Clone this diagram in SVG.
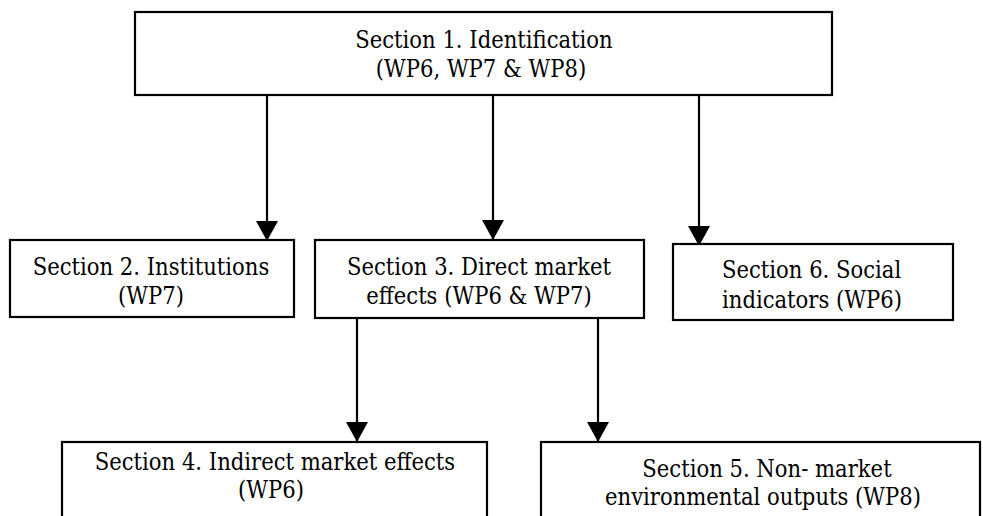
<svg xmlns="http://www.w3.org/2000/svg" width="983" height="516" viewBox="0 0 983 516">
<defs>
<style>
.box{fill:#fff;stroke:#000;stroke-width:2.2}
.t{font-family:'DejaVu Serif Condensed','DejaVu Serif',serif;font-stretch:condensed;font-size:23.5px;fill:#000}
.c{text-anchor:middle}
.ln{stroke:#000;stroke-width:2.2;fill:none}
</style>
<marker id="ah" markerUnits="userSpaceOnUse" markerWidth="20" markerHeight="22" viewBox="0 0 20 22" refX="20" refY="11" orient="auto">
<path d="M0,0 L20,11 L0,22 Z" fill="#000"/>
</marker>
</defs>
<rect width="983" height="516" fill="#fff"/>
<g id="connectors">
<line class="ln" x1="267" y1="95" x2="267" y2="241" marker-end="url(#ah)"/>
<line class="ln" x1="493" y1="95" x2="493" y2="240" marker-end="url(#ah)"/>
<line class="ln" x1="699" y1="95" x2="699" y2="246" marker-end="url(#ah)"/>
<line class="ln" x1="357" y1="318" x2="357" y2="442" marker-end="url(#ah)"/>
<line class="ln" x1="598" y1="318" x2="598" y2="442" marker-end="url(#ah)"/>
</g>
<g id="s1">
<rect class="box" x="135" y="12" width="697" height="83"/>
<text class="t c" x="484" y="48">Section 1. Identification</text>
<text class="t c" x="481" y="77">(WP6, WP7 &amp; WP8)</text>
</g>
<g id="s2">
<rect class="box" x="10" y="240" width="284" height="77"/>
<text class="t c" x="151" y="275">Section 2. Institutions</text>
<text class="t c" x="151" y="304">(WP7)</text>
</g>
<g id="s3">
<rect class="box" x="315" y="240" width="329" height="78"/>
<text class="t c" x="479" y="275">Section 3. Direct market</text>
<text class="t c" x="479" y="304">effects (WP6 &amp; WP7)</text>
</g>
<g id="s6">
<rect class="box" x="673" y="244" width="280" height="76"/>
<text class="t" x="722" y="278">Section 6. Social</text>
<text class="t" x="722" y="308">indicators (WP6)</text>
</g>
<g id="s4">
<rect class="box" x="62" y="442" width="425" height="90"/>
<text class="t c" x="275" y="470">Section 4. Indirect market effects</text>
<text class="t c" x="271" y="498">(WP6)</text>
</g>
<g id="s5">
<rect class="box" x="541" y="442" width="439" height="90"/>
<text class="t c" x="767" y="477">Section 5. Non- market</text>
<text class="t c" x="763" y="505">environmental outputs (WP8)</text>
</g>
</svg>
